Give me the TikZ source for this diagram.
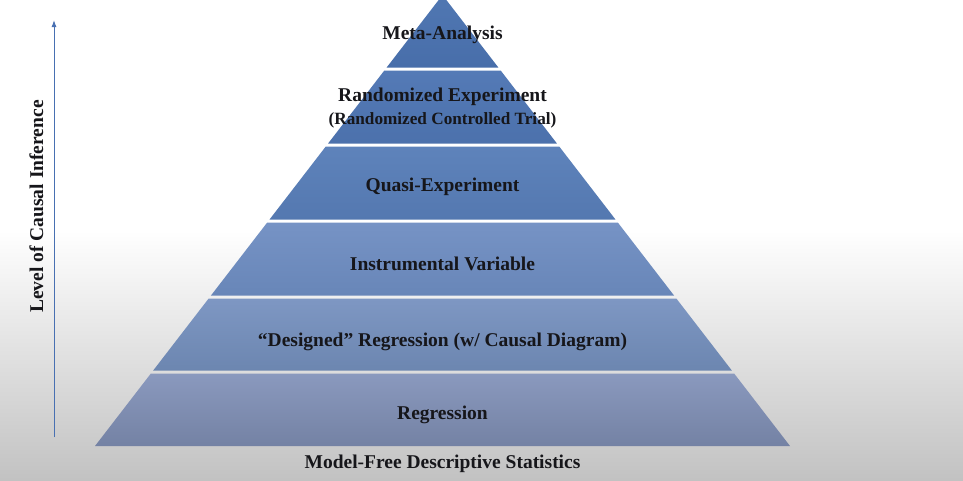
\documentclass[tikz,border=0pt]{standalone}
\usepackage{fontspec}
\setmainfont{Liberation Serif}
\usetikzlibrary{arrows.meta}
\definecolor{bgbot}{RGB}{194,194,194}
\definecolor{arrowc}{RGB}{72,112,178}
\definecolor{txt}{RGB}{22,22,26}
\definecolor{aT}{RGB}{80,119,178}\definecolor{aB}{RGB}{72,110,170}
\definecolor{bT}{RGB}{84,122,182}\definecolor{bB}{RGB}{76,113,172}
\definecolor{cT}{RGB}{94,131,187}\definecolor{cB}{RGB}{84,120,176}
\definecolor{dT}{RGB}{118,147,197}\definecolor{dB}{RGB}{104,134,184}
\definecolor{eT}{RGB}{126,151,195}\definecolor{eB}{RGB}{108,134,176}
\definecolor{fT}{RGB}{138,153,190}\definecolor{fB}{RGB}{116,130,164}
\begin{document}
\begin{tikzpicture}[x=1pt,y=-1pt,
  lbl/.style={font=\bfseries\fontsize{19.5}{22}\selectfont, text=txt, anchor=base, inner sep=0pt},
  sublbl/.style={font=\bfseries\fontsize{17.2}{20}\selectfont, text=txt, anchor=base, inner sep=0pt}]
\useasboundingbox (0,0) rectangle (963,480);
\fill[white] (0,0) rectangle (963,231);
\shade[top color=white, bottom color=bgbot] (0,230) rectangle (963,480);
\foreach \t/\b/\ct/\cb in {-5/67.5/aT/aB, 70.5/143.5/bT/bB, 146.5/219.5/cT/cB, 222.5/295.5/dT/dB, 298.5/370.5/eT/eB, 373.5/446/fT/fB}{
  \pgfmathsetmacro\wt{(\t+5)*0.7705}
  \pgfmathsetmacro\wb{(\b+5)*0.7705}
  \shade[top color=\ct, bottom color=\cb] (442.5-\wt,\t) -- (442.5+\wt,\t) -- (442.5+\wb,\b) -- (442.5-\wb,\b) -- cycle;
}
\node[lbl] (meta) at (442.5,39.5) {Meta-Analysis};
\node[lbl] (rand) at (442.5,101.5) {Randomized Experiment};
\node[sublbl] (rct) at (442.5,124) {(Randomized Controlled Trial)};
\node[lbl] (quasi) at (442.5,191.5) {Quasi-Experiment};
\node[lbl] (iv) at (442.5,270.5) {Instrumental Variable};
\node[lbl] (designed) at (442.5,346.5) {“Designed” Regression (w/ Causal Diagram)};
\node[lbl] (reg) at (442.5,419) {Regression};
\node[lbl] (mfree) at (442.5,468.5) {Model-Free Descriptive Statistics};
\coordinate (arrlow) at (54,437);
\coordinate (arrtip) at (54,20);
\draw[arrowc, line width=1pt, -{Latex[length=7pt,width=5pt]}] (arrlow) -- (arrtip);
\node[lbl, rotate=90] (axislabel) at (43,206.5) {Level of Causal Inference};
\end{tikzpicture}
\end{document}
